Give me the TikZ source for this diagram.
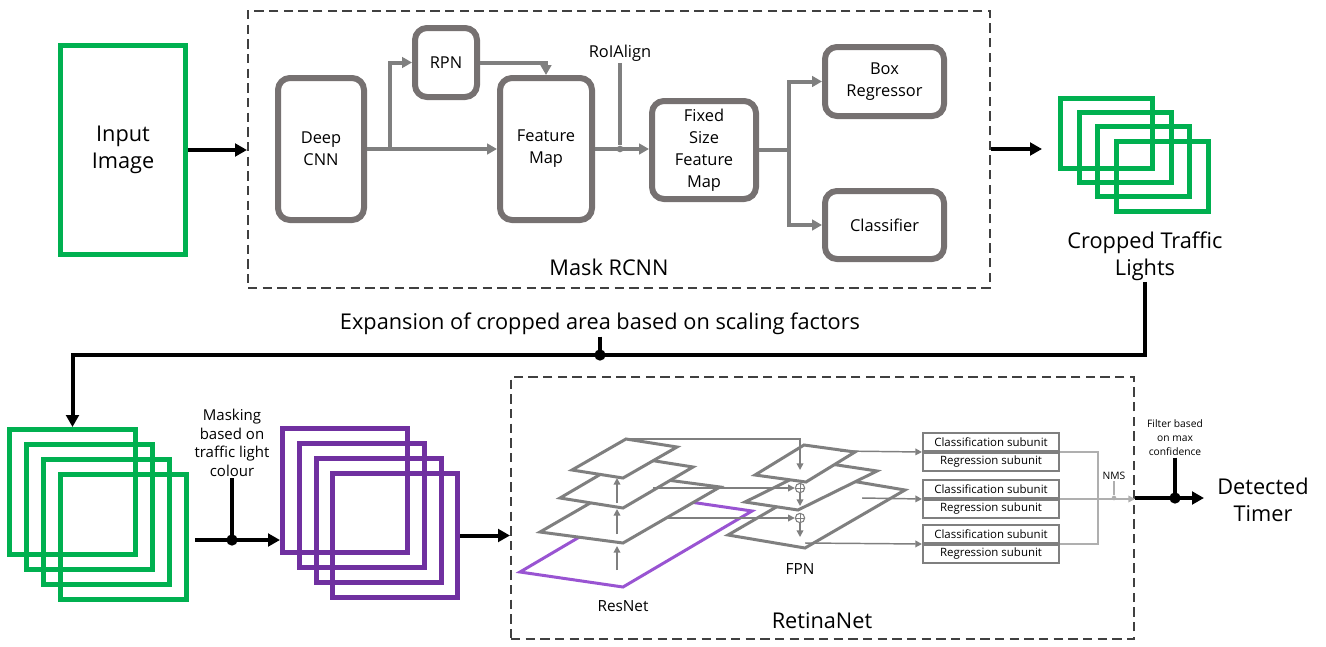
\documentclass[tikz,border=0pt]{standalone}
\usepackage{fontspec}
\setmainfont{Open Sans}
\usetikzlibrary{arrows.meta,positioning}

\definecolor{tlgreen}{RGB}{0,176,80}
\definecolor{tlpurple}{RGB}{112,48,160}
\definecolor{respurple}{RGB}{153,84,210}
\definecolor{boxgray}{RGB}{118,113,113}
\definecolor{arrowgray}{RGB}{127,127,127}
\definecolor{lightgray}{RGB}{175,175,175}
\definecolor{dashgray}{RGB}{64,64,64}

\tikzset{
  bigtext/.style={font=\fontsize{16.3}{20}\selectfont, align=center, inner sep=1pt},
  boxtext/.style={font=\fontsize{12.3}{16.5}\selectfont, align=center},
  midtext/.style={font=\fontsize{11.25}{14}\selectfont, align=center, inner sep=1pt},
  smalltext/.style={font=\fontsize{7.7}{10.5}\selectfont, align=center, inner sep=1pt},
  rcnnbox/.style={boxtext, draw=boxgray, line width=4.5pt, rounded corners=9pt, inner sep=0pt},
  greenframe/.style={draw=tlgreen, line width=3.75pt, inner sep=0pt},
  purpleframe/.style={draw=tlpurple, line width=3.75pt, inner sep=0pt},
  dashframe/.style={draw=dashgray, line width=1.5pt, dash pattern=on 7pt off 4pt, inner sep=0pt},
  subunit/.style={draw=arrowgray, fill=white, line width=1.5pt, minimum width=102pt, minimum height=13.5pt, inner sep=0pt, font=\fontsize{8.6}{10}\selectfont},
  layer/.style={draw=arrowgray, fill=white, line width=2.25pt, line join=miter},
  grayarrow/.style={draw=arrowgray, line width=3pt, -{Triangle[length=7.5pt,width=8pt]}},
  grayline/.style={draw=arrowgray, line width=3pt},
  thinarrow/.style={draw=arrowgray, line width=1.1pt, -{Triangle[length=5pt,width=5pt]}},
  lightarrow/.style={draw=lightgray, line width=1.1pt, -{Triangle[length=5pt,width=5pt]}},
  lightline/.style={draw=lightgray, line width=1.1pt},
  blackarrow/.style={draw=black, line width=3pt, -{Triangle[length=9pt,width=9.5pt]}},
  blackline/.style={draw=black, line width=3pt},
  blackdot/.style={circle, fill=black, minimum size=8.5pt, inner sep=0pt},
  graydot/.style={circle, fill=arrowgray, minimum size=5pt, inner sep=0pt},
  lightdot/.style={circle, fill=lightgray, minimum size=3.5pt, inner sep=0pt},
  sumnode/.style={circle, draw=arrowgray, fill=white, line width=0.8pt, minimum size=7pt, inner sep=0pt,
    path picture={\draw[arrowgray, line width=0.6pt] (path picture bounding box.north) -- (path picture bounding box.south)
      (path picture bounding box.west) -- (path picture bounding box.east);}}
}

\begin{document}
\begin{tikzpicture}[x=0.75pt,y=0.75pt,yscale=-1,xscale=1]
\useasboundingbox (0,0) rectangle (1326,646);

% input and the two dashed frames
\node [greenframe, bigtext, minimum width=93.75pt, minimum height=156.75pt] (input) at (123,150) {Input\\Image};
\node [dashframe, minimum width=556.5pt, minimum height=207.75pt] (maskframe) at (619,149.5) {};
\node [dashframe, minimum width=467.25pt, minimum height=196.5pt] (retinaframe) at (822.5,508) {};
\node [bigtext] (masklabel) at (609,267) {Mask RCNN};
\node [bigtext] (retinalabel) at (822,621) {RetinaNet};

% Mask RCNN blocks
\node [rcnnbox, minimum width=64.5pt, minimum height=106.5pt] (deepcnn) at (321,149) {Deep\\CNN};
\node [rcnnbox, minimum width=46.5pt, minimum height=51.75pt] (rpn) at (446,62.5) {RPN};
\node [rcnnbox, minimum width=69pt, minimum height=106.5pt] (featmap) at (546,149) {Feature\\Map};
\node [rcnnbox, minimum width=78pt, minimum height=73.5pt] (fixedmap) at (704,150) {Fixed\\Size\\Feature\\Map};
\node [rcnnbox, minimum width=89.25pt, minimum height=51.75pt] (boxreg) at (884.5,81.5) {Box\\Regressor};
\node [rcnnbox, minimum width=89.25pt, minimum height=51pt] (classifier) at (884.5,225) {Classifier};
\node [boxtext, inner sep=1pt] (roilabel) at (620,53) {RoIAlign};
\node [graydot] (roidot) at (620,149) {};
\coordinate (split1) at (390,149);
\coordinate (split2) at (789,150);

\draw [grayarrow] (deepcnn.east) -- (featmap.west);
\draw [grayarrow] (split1) |- (rpn.west);
\draw [grayarrow] (rpn.east) -| (featmap.north);
\draw [grayarrow] (featmap.east) -- (fixedmap.west |- featmap.east);
\draw [grayline] (roilabel.south) -- (roidot);
\draw [grayline] (fixedmap.east) -- (split2);
\draw [grayarrow] (split2) |- (boxreg.west);
\draw [grayarrow] (split2) |- (classifier.west);

% cropped traffic lights
\foreach \i in {0,...,3}
  \node [greenframe, minimum width=69pt, minimum height=52.5pt] (crop\i) at ({1106.5+18.5*\i},{133.5+14.2*\i}) {};
\node [bigtext] (croplabel) at (1145,256) {Cropped Traffic\\Lights};
\coordinate (cropin) at (1042,149);

\draw [blackarrow] (input.east) -- (maskframe.west |- input.east);
\draw [blackarrow] (maskframe.east |- cropin) -- (cropin);

% expansion of the crops
\node [bigtext] (explabel) at (600,324) {Expansion of cropped area based on scaling factors};
\node [blackdot] (expdot) at (600,355) {};
\foreach \i in {0,...,3}
  \node [greenframe, minimum width=94.5pt, minimum height=93.75pt] (lgreen\i) at ({72.5+17*\i},{492+15*\i}) {};
\draw [blackarrow] (croplabel.south) |- (lgreen0.north |- expdot.center) -- (lgreen0.north);
\draw [blackline] (explabel.south) -- (expdot.center);

% masking by colour
\foreach \i in {0,...,3}
  \node [purpleframe, minimum width=93.75pt, minimum height=93pt] (purple\i) at ({345+16.8*\i},{490.5+15*\i}) {};
\node [midtext] (masklbl) at (232,443) {Masking\\based on\\traffic light\\colour};
\node [blackdot] (maskdot) at (232,540) {};
\draw [blackarrow] ([xshift=4.5pt]lgreen3.east |- maskdot) -- (purple0.west |- maskdot);
\draw [blackline] (masklbl.south) -- (maskdot.center);
\draw [blackarrow] (purple3.east) -- (retinaframe.west |- purple3.east);

% ResNet layers
\draw [draw=respurple, line width=2.25pt, line join=miter] (520,572) -- (623,587) -- (752,511) -- (649,496) -- cycle;
\draw [layer] (540,532) -- (623,543) -- (720,487) -- (637,476) -- cycle;
\draw [layer] (560,498) -- (623,508) -- (693,467) -- (630,457) -- cycle;
\draw [layer] (572,470) -- (623,478) -- (677,447) -- (626,439) -- cycle;
\draw [thinarrow] (617,570) -- (617,546);
\draw [thinarrow] (617,534) -- (617,509);
\draw [thinarrow] (617,503) -- (617,478);
\node [midtext, font=\fontsize{11.5}{14}\selectfont] (resnetlabel) at (623,606) {ResNet};

% FPN layers
\draw [layer] (728,535) -- (805,548) -- (905,490) -- (828,477) -- cycle;
\draw [layer] (745,502) -- (798,510) -- (877,471) -- (824,463) -- cycle;
\draw [layer] (755,475) -- (806,482) -- (855,452) -- (804,445) -- cycle;
\node [midtext, font=\fontsize{11.5}{14}\selectfont] (fpnlabel) at (800,569) {FPN};
\node [sumnode] (sum1) at (800,488) {};
\node [sumnode] (sum2) at (800,518) {};
\coordinate (res1out) at (626,439);
\coordinate (res2out) at (653,488);
\coordinate (res3out) at (665,518);
\coordinate (fpntop) at (800,470);
\draw [thinarrow] (res1out) -| (fpntop);
\draw [thinarrow] (res2out) -- (sum1.west);
\draw [thinarrow] (res3out) -- (sum2.west);
\draw [thinarrow] (sum1.south) -- (800,506);
\draw [thinarrow] (sum2.south) -- (800,537);

% subnets
\node [subunit] (cls1) at (991,442) {Classification subunit};
\node [subunit, below=0pt of cls1] (reg1) {Regression subunit};
\node [subunit] (cls2) at (991,489) {Classification subunit};
\node [subunit, below=0pt of cls2] (reg2) {Regression subunit};
\node [subunit] (cls3) at (991,534) {Classification subunit};
\node [subunit, below=0pt of cls3] (reg3) {Regression subunit};
\coordinate (fpn1out) at (840,451);
\coordinate (fpn2out) at (862,498);
\coordinate (fpn3out) at (805,543);
\draw [thinarrow] (fpn1out) -- (cls1.south west);
\draw [thinarrow] (fpn2out) -- (cls2.south west);
\draw [thinarrow] (fpn3out) -- (cls3.south west);

% NMS and filter
\draw [lightline] (cls1.south east) -- ++(38,0) |- (cls3.south east);
\draw [lightarrow] (cls2.south east) -- (retinaframe.east |- cls2.south east);
\node [smalltext] (nmslabel) at (1114,476) {NMS};
\node [lightdot] (nmsdot) at (1114,498) {};
\draw [lightline] (nmslabel.south) -- (nmsdot);

\node [smalltext] (filterlabel) at (1175,438) {Filter based\\on max\\confidence};
\node [blackdot] (filterdot) at (1175,498) {};
\node [bigtext] (detected) at (1263,500) {Detected\\Timer};
\coordinate (detin) at (1204,498);
\draw [blackarrow] (retinaframe.east |- detin) -- (detin);
\draw [blackline] (filterlabel.south) -- (filterdot.center);

\end{tikzpicture}
\end{document}
